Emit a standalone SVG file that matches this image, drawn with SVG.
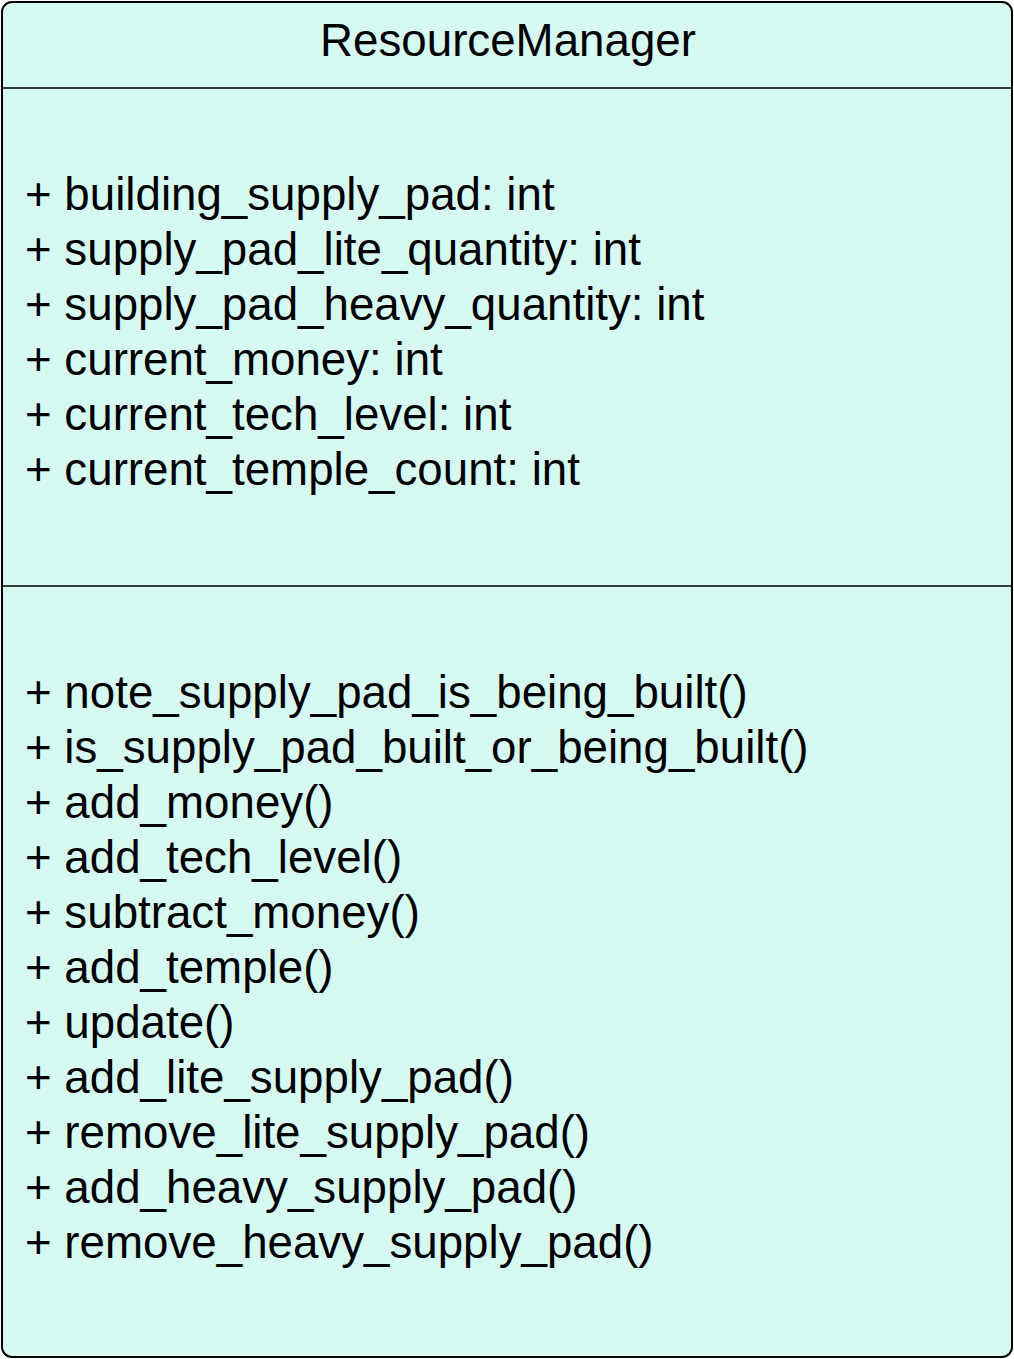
<svg xmlns="http://www.w3.org/2000/svg" width="1014" height="1359" viewBox="0 0 1014 1359">
<style>
.t{font-family:"Liberation Sans",Arial,sans-serif;font-size:45.7px;fill:#000}
</style>
<rect width="1014" height="1359" fill="#ffffff"/>
<g id="ResourceManager">
<rect x="2" y="2" width="1010" height="1355" rx="10" ry="10" fill="#d6f9f2" stroke="#000" stroke-width="2"/>
<line x1="2" y1="88" x2="1012" y2="88" stroke="#000" stroke-width="1.5"/>
<line x1="2" y1="586" x2="1012" y2="586" stroke="#000" stroke-width="1.5"/>
<text class="t" x="508" y="56" text-anchor="middle">ResourceManager</text>
<text class="t" x="25" y="209.5">+ building_supply_pad: int</text>
<text class="t" x="25" y="264.5">+ supply_pad_lite_quantity: int</text>
<text class="t" x="25" y="319.5">+ supply_pad_heavy_quantity: int</text>
<text class="t" x="25" y="374.5">+ current_money: int</text>
<text class="t" x="25" y="429.5">+ current_tech_level: int</text>
<text class="t" x="25" y="484.5">+ current_temple_count: int</text>
<text class="t" x="25" y="707.5">+ note_supply_pad_is_being_built()</text>
<text class="t" x="25" y="762.5">+ is_supply_pad_built_or_being_built()</text>
<text class="t" x="25" y="817.5">+ add_money()</text>
<text class="t" x="25" y="872.5">+ add_tech_level()</text>
<text class="t" x="25" y="927.5">+ subtract_money()</text>
<text class="t" x="25" y="982.5">+ add_temple()</text>
<text class="t" x="25" y="1037.5">+ update()</text>
<text class="t" x="25" y="1092.5">+ add_lite_supply_pad()</text>
<text class="t" x="25" y="1147.5">+ remove_lite_supply_pad()</text>
<text class="t" x="25" y="1202.5">+ add_heavy_supply_pad()</text>
<text class="t" x="25" y="1257.5">+ remove_heavy_supply_pad()</text>
</g>
<g id="connectors"/>
</svg>
